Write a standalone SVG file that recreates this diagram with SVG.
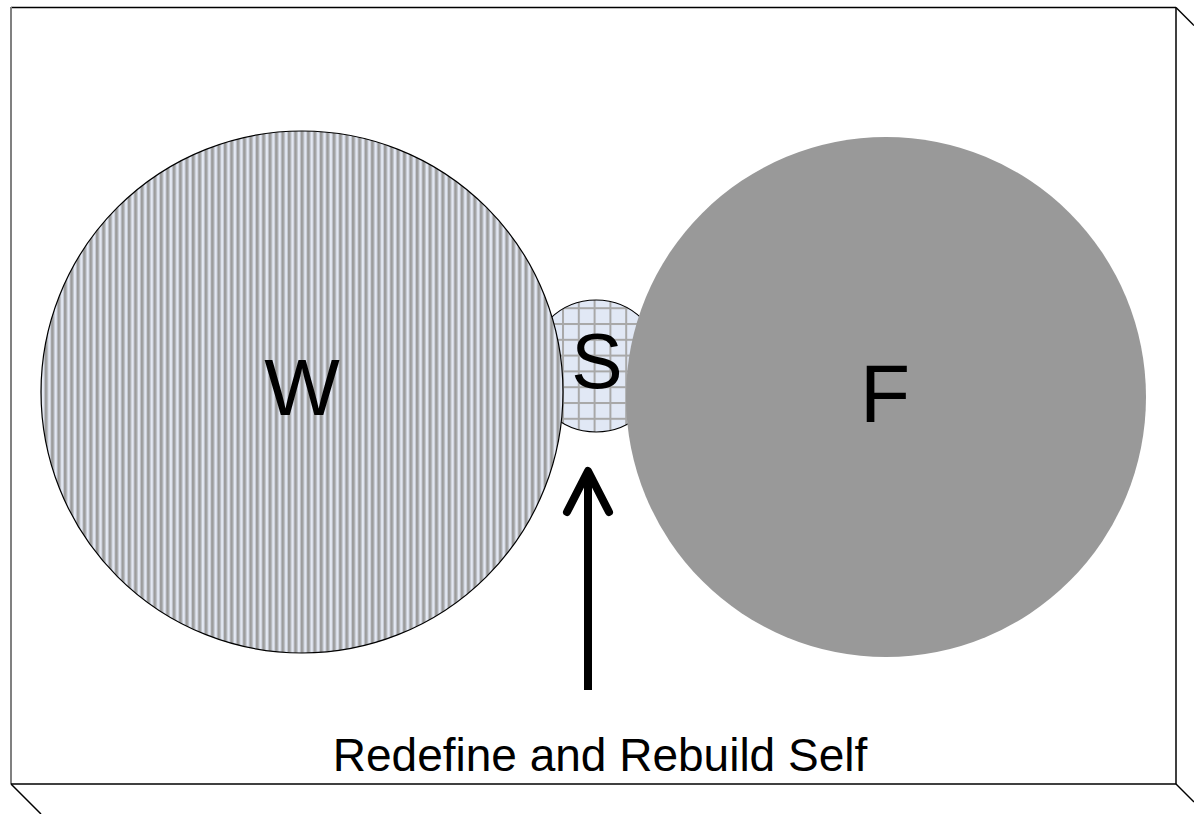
<svg xmlns="http://www.w3.org/2000/svg" width="1194" height="814" viewBox="0 0 1194 814">
  <defs>
    <!-- narrow vertical stripes -->
    <pattern id="stripes" patternUnits="userSpaceOnUse" x="0" y="0" width="6.4" height="10">
      <rect width="6.4" height="10" fill="#e4e9f4"/>
      <rect x="0" width="2.6" height="10" fill="#9c9c9c"/>
      <rect x="2.6" width="1" height="10" fill="#c4c8d0"/>
      <rect x="5.4" width="1" height="10" fill="#c4c8d0"/>
    </pattern>
    <!-- small grid -->
    <pattern id="grid" patternUnits="userSpaceOnUse" x="562" y="323" width="15.8" height="15.8">
      <rect width="15.8" height="15.8" fill="#e1e8f5"/>
      <rect x="0" y="0" width="2" height="15.8" fill="#a8a8a8"/>
      <rect x="0" y="0" width="15.8" height="2" fill="#a8a8a8"/>
    </pattern>
  </defs>
  <style>
    .label { font-family: "Liberation Sans", Arial, sans-serif; fill: #000; text-anchor: middle; }
    .frame { fill: none; stroke: #000; stroke-width: 1.5; }
  </style>

  <rect width="1194" height="814" fill="#fff"/>

  <!-- box frame with perspective edges -->
  <g id="frame">
    <line class="frame" x1="11" y1="7.5" x2="1176" y2="7.5" stroke="#222" stroke-width="2"/>
    <line x1="11" y1="7" x2="11" y2="784" stroke="#808080" stroke-width="2"/>
    <line class="frame" x1="11" y1="784" x2="1176" y2="784"/>
    <line class="frame" x1="1176" y1="7.5" x2="1176" y2="784"/>
    <line class="frame" x1="1176" y1="7.5" x2="1194" y2="25.5"/>
    <line class="frame" x1="1176" y1="784" x2="1194" y2="802"/>
    <line class="frame" x1="11" y1="784" x2="41" y2="814"/>
  </g>

  <!-- S sits behind both large circles -->
  <g id="node-s">
    <circle cx="596" cy="366" r="66" fill="url(#grid)" stroke="#000" stroke-width="1.2"/>
  </g>

  <g id="node-w">
    <circle cx="302" cy="392" r="261" fill="url(#stripes)" stroke="#000" stroke-width="1.2"/>
    <text class="label" x="302" y="415" font-size="80">W</text>
  </g>

  <g id="node-f">
    <circle cx="886" cy="397" r="260" fill="#999999"/>
    <text class="label" x="885" y="422" font-size="82">F</text>
  </g>

  <text id="label-s" class="label" x="597" y="388" font-size="77">S</text>

  <g id="connectors" fill="none" stroke="#000" stroke-width="8" stroke-linecap="round" stroke-linejoin="round">
    <line x1="588" y1="690" x2="588" y2="474" stroke-linecap="butt"/>
    <polyline points="567,512 588,471 609,512"/>
  </g>

  <g id="caption">
    <text class="label" x="600" y="771" font-size="46">Redefine and Rebuild Self</text>
  </g>
</svg>
